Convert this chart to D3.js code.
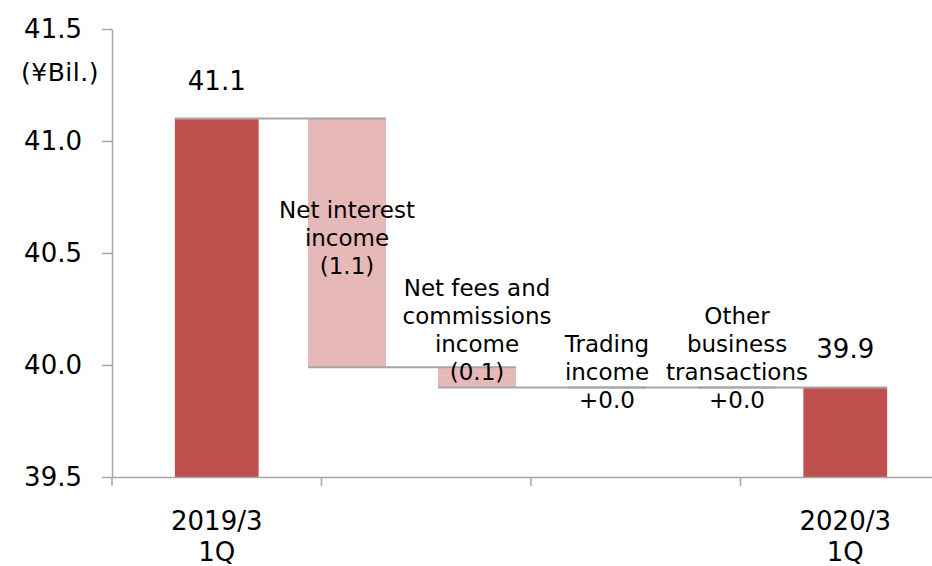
<!DOCTYPE html>
<html>
<head>
<meta charset="utf-8">
<script src="https://cdn.jsdelivr.net/npm/d3@7"></script>
<style>
  body { margin: 0; background: #fff; }
  svg { display: block; font-family: "DejaVu Sans", Verdana, sans-serif; }
</style>
</head>
<body>
<svg width="932" height="566"></svg>
<script>
// waterfall: 2019/3 1Q -> 2020/3 1Q
var categories = ["2019/3 1Q", "Net interest income", "Net fees and commissions income",
                  "Trading income", "Other business transactions", "2020/3 1Q"];
var kinds = ["total", "step", "step", "step", "step", "total"];
var values = [41.10, -1.11, -0.09, 0.00, 0.00, 39.90];
var valueLabels = ["41.1", "(1.1)", "(0.1)", "+0.0", "+0.0", "39.9"];
var nameLines = [
    ["2019/3", "1Q"],
    ["Net interest", "income"],
    ["Net fees and", "commissions", "income"],
    ["Trading", "income"],
    ["Other", "business", "transactions"],
    ["2020/3", "1Q"]
];
// category axis slots: totals sit in the first and last slot
var axisSlots = ["2019/3 1Q", "slot2", "slot3", "2020/3 1Q"];
var yTicks = [39.5, 40.0, 40.5, 41.0, 41.5];

var svg = d3.select("svg");

var y = d3.scaleLinear().domain([39.5, 41.5]).range([477, 29]);
var xAxisScale = d3.scaleBand().domain(axisSlots).range([112, 950])
        .paddingInner(0.6).paddingOuter(0.3);
var stepCats = categories.filter(function (c, i) { return kinds[i] === "step"; });
var xStep = d3.scaleBand().domain(stepCats).range([282, 802])
        .paddingInner(0.4).paddingOuter(0.2);

function left(d) {
    return d.kind === "total" ? xAxisScale(d.cat) : xStep(d.cat);
}
function bw(d) {
    return d.kind === "total" ? xAxisScale.bandwidth() : xStep.bandwidth();
}

// running totals
var bars = [], run = 0;
values.forEach(function (v, i) {
    var lo, hi;
    if (kinds[i] === "total") {
        lo = 39.5; hi = v; run = v;
    } else {
        var next = run + v;
        lo = Math.min(run, next); hi = Math.max(run, next); run = next;
    }
    bars.push({cat: categories[i], i: i, lo: lo, hi: hi, end: run, kind: kinds[i]});
});

var gray = "#a6a6a6";

// bars
svg.append("g").selectAll("rect")
    .data(bars)
    .enter().append("rect")
    .attr("x", left)
    .attr("width", bw)
    .attr("y", function (d) { return y(d.hi); })
    .attr("height", function (d) { return y(d.lo) - y(d.hi); })
    .attr("fill", function (d) { return d.kind === "total" ? "#c0504d" : "#e6b9b8"; });

// connectors
svg.append("g").selectAll("line")
    .data(bars.slice(0, -1))
    .enter().append("line")
    .attr("x1", left)
    .attr("x2", function (d) { var n = bars[d.i + 1]; return left(n) + bw(n); })
    .attr("y1", function (d) { return y(d.end); })
    .attr("y2", function (d) { return y(d.end); })
    .attr("stroke", gray)
    .attr("stroke-width", 2);

// y axis
var yAxis = svg.append("g")
    .attr("transform", "translate(112,0)")
    .call(d3.axisLeft(y).tickValues(yTicks).tickFormat(d3.format(".1f"))
        .tickSize(10).tickSizeOuter(0).tickPadding(20));
yAxis.selectAll("text").attr("font-size", 26).attr("fill", "#000")
    .attr("font-family", "DejaVu Sans");

// x axis: ticks between slots
var xAxis = svg.append("g")
    .attr("transform", "translate(0," + y(39.5) + ")")
    .call(d3.axisBottom(xAxisScale).tickFormat("").tickSize(9).tickSizeOuter(0));
xAxis.selectAll(".tick").attr("transform", function (d) {
    return "translate(" + (xAxisScale(d) - xAxisScale.step() * xAxisScale.paddingInner() / 2) + ",0)";
});
xAxis.append("line")
    .attr("x1", xAxisScale.range()[1]).attr("x2", xAxisScale.range()[1])
    .attr("y1", 0).attr("y2", 9);

svg.selectAll(".domain, .tick line").attr("stroke", gray).attr("stroke-width", 1.5);

// unit
svg.append("text")
    .attr("x", 60).attr("y", 81)
    .attr("text-anchor", "middle")
    .attr("font-size", 25)
    .attr("letter-spacing", 0.5)
    .text("(¥Bil.)");

// category labels under totals + value on top
var lab = svg.append("g").attr("font-size", 26).attr("text-anchor", "middle");
bars.filter(function (d) { return d.kind === "total"; }).forEach(function (d) {
    var cx = left(d) + bw(d) / 2;
    lab.append("text").attr("x", cx).attr("y", y(39.5) + 53).text(nameLines[d.i][0]);
    lab.append("text").attr("x", cx).attr("y", y(39.5) + 84).text(nameLines[d.i][1]);
    lab.append("text").attr("x", cx).attr("y", y(d.hi) - 29).text(valueLabels[d.i]);
});

// step labels
var lh = 28;
var steps = svg.append("g").attr("font-size", 23).attr("text-anchor", "middle");
bars.filter(function (d) { return d.kind === "step"; }).forEach(function (d) {
    var lines = nameLines[d.i].concat([valueLabels[d.i]]);
    var cx = left(d) + bw(d) / 2;
    var top = y(d.hi), bot = y(d.lo), h = bot - top;
    var last;
    if (h > lines.length * lh) {
        last = (top + bot) / 2 + 3 + (lines.length - 1) * lh / 2;
    } else if (h > 1) {
        last = (top + bot) / 2 + 3;
    } else {
        last = bot + 21;
    }
    var t = steps.append("text").attr("x", cx);
    lines.forEach(function (s, k) {
        t.append("tspan").attr("x", cx)
            .attr("y", last - (lines.length - 1 - k) * lh)
            .text(s);
    });
});
</script>
</body>
</html>
